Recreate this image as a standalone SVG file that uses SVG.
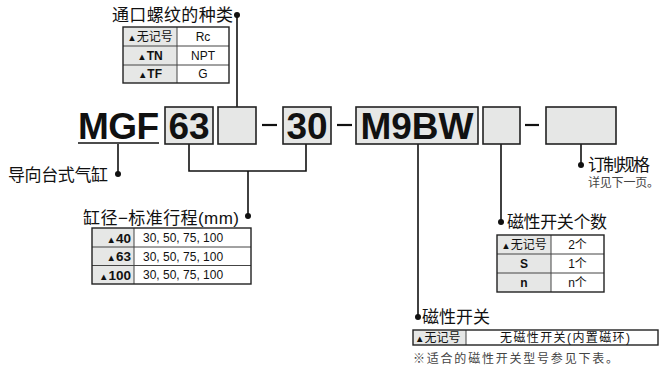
<svg xmlns="http://www.w3.org/2000/svg" width="659" height="366" viewBox="0 0 659 366">
<style>
text{font-family:"Liberation Sans","Noto Sans CJK SC",sans-serif;fill:#111}
.code{font-size:37px;font-weight:bold}
.box{fill:#e6e7e6;stroke:#222;stroke-width:1.6}
.ln{fill:none;stroke:#111;stroke-width:1.6}
.dot{fill:#111}
.hd{font-size:17px}
.cell{font-size:12px}
.b{font-weight:bold}
.gc{fill:#e6e7e6}
.wc{fill:#fff}
.tb{fill:none;stroke:#222;stroke-width:1.4}
.tl{stroke:#444;stroke-width:1}
.note{font-size:12px;fill:#444}
.tri{font-size:9.5px}
</style>

<g id="connectors">
  <polyline class="ln" points="237,107 237,15"/>
  <circle class="dot" cx="237" cy="15" r="3"/>
  <polyline class="ln" points="118,144 118,174"/>
  <circle class="dot" cx="118" cy="174" r="3"/>
  <polyline class="ln" points="189,144 189,171 306,171 306,144"/>
  <polyline class="ln" points="248,171 248,216"/>
  <circle class="dot" cx="248" cy="216" r="3"/>
  <polyline class="ln" points="418,144 418,317"/>
  <circle class="dot" cx="418" cy="317" r="3"/>
  <polyline class="ln" points="501,144 501,222"/>
  <circle class="dot" cx="501" cy="222" r="3"/>
  <polyline class="ln" points="581,144 581,165"/>
  <circle class="dot" cx="581" cy="165" r="3"/>
</g>

<g id="model">
  <text class="code" x="78" y="138.5" textLength="81">MGF</text>
  <line x1="78" y1="143" x2="159" y2="143" stroke="#111" stroke-width="1.6"/>
  <rect class="box" x="165" y="107" width="48" height="37"/>
  <text class="code" x="189" y="138.5" text-anchor="middle">63</text>
  <rect class="box" x="218" y="107" width="38" height="37"/>
  <line x1="262" y1="125" x2="277" y2="125" stroke="#111" stroke-width="2.2"/>
  <rect class="box" x="283" y="107" width="48" height="37"/>
  <text class="code" x="307" y="138.5" text-anchor="middle">30</text>
  <line x1="337" y1="125" x2="352" y2="125" stroke="#111" stroke-width="2.2"/>
  <rect class="box" x="356" y="107" width="122" height="37"/>
  <text class="code" x="417" y="138.5" text-anchor="middle">M9BW</text>
  <rect class="box" x="483" y="107" width="37" height="37"/>
  <line x1="525" y1="125" x2="539" y2="125" stroke="#111" stroke-width="2.2"/>
  <rect class="box" x="546" y="107" width="70" height="37"/>
</g>

<g id="port-thread">
  <text class="hd" x="112" y="21" textLength="121">通口螺纹的种类</text>
  <rect class="gc" x="123" y="27" width="54" height="56"/>
  <rect class="wc" x="177" y="27" width="52" height="56"/>
  <line class="tl" x1="123" y1="46" x2="229" y2="46"/>
  <line class="tl" x1="123" y1="65" x2="229" y2="65"/>
  <line class="tl" x1="177" y1="27" x2="177" y2="83"/>
  <rect class="tb" x="123" y="27" width="106" height="56"/>
  <text class="cell" x="150" y="40.5" text-anchor="middle"><tspan class="tri">▲</tspan>无记号</text>
  <text class="cell" x="203" y="40.5" text-anchor="middle">Rc</text>
  <text class="cell b" x="150" y="59.5" text-anchor="middle"><tspan class="tri">▲</tspan>TN</text>
  <text class="cell" x="203" y="59.5" text-anchor="middle">NPT</text>
  <text class="cell b" x="150" y="78" text-anchor="middle"><tspan class="tri">▲</tspan>TF</text>
  <text class="cell" x="203" y="78" text-anchor="middle">G</text>
</g>

<g id="series">
  <text class="hd" x="8" y="181" textLength="100">导向台式气缸</text>
</g>

<g id="bore-stroke">
  <text class="hd" x="83" y="224" textLength="156">缸径−标准行程(mm)</text>
  <rect class="gc" x="92" y="228" width="42" height="56"/>
  <rect class="wc" x="134" y="228" width="117" height="56"/>
  <line class="tl" x1="92" y1="247" x2="251" y2="247"/>
  <line class="tl" x1="92" y1="265.5" x2="251" y2="265.5"/>
  <line class="tl" x1="134" y1="228" x2="134" y2="284"/>
  <rect class="tb" x="92" y="228" width="159" height="56"/>
  <text class="b" font-size="13.5" x="131" y="242.5" text-anchor="end"><tspan class="tri">▲</tspan>40</text>
  <text class="b" font-size="13.5" x="131" y="261" text-anchor="end"><tspan class="tri">▲</tspan>63</text>
  <text class="b" font-size="13.5" x="131" y="279.5" text-anchor="end"><tspan class="tri">▲</tspan>100</text>
  <text font-size="12" x="143" y="242">30, 50, 75, 100</text>
  <text font-size="12" x="143" y="260.5">30, 50, 75, 100</text>
  <text font-size="12" x="143" y="279">30, 50, 75, 100</text>
</g>

<g id="custom">
  <text class="hd" x="588" y="171" textLength="62">订制规格</text>
  <text class="note" x="588" y="187" textLength="71">详见下一页。</text>
</g>

<g id="switch-count">
  <text class="hd" x="507" y="228" textLength="100">磁性开关个数</text>
  <rect class="gc" x="497" y="235" width="54" height="57"/>
  <rect class="wc" x="551" y="235" width="53" height="57"/>
  <line class="tl" x1="497" y1="254" x2="604" y2="254"/>
  <line class="tl" x1="497" y1="273" x2="604" y2="273"/>
  <line class="tl" x1="551" y1="235" x2="551" y2="292"/>
  <rect class="tb" x="497" y="235" width="107" height="57"/>
  <text class="cell" x="524" y="248.5" text-anchor="middle"><tspan class="tri">▲</tspan>无记号</text>
  <text class="cell" x="577.5" y="248.5" text-anchor="middle">2个</text>
  <text class="cell b" x="524" y="267.5" text-anchor="middle">S</text>
  <text class="cell" x="577.5" y="267.5" text-anchor="middle">1个</text>
  <text class="cell b" x="524" y="286.5" text-anchor="middle">n</text>
  <text class="cell" x="577.5" y="286.5" text-anchor="middle">n个</text>
</g>

<g id="switch">
  <text class="hd" x="422" y="323" textLength="68">磁性开关</text>
  <rect class="gc" x="413" y="330" width="53" height="15"/>
  <rect class="wc" x="466" y="330" width="192" height="15"/>
  <line class="tl" x1="466" y1="330" x2="466" y2="345"/>
  <rect class="tb" x="413" y="330" width="245" height="15"/>
  <text class="cell" x="415" y="342"><tspan class="tri">▲</tspan>无记号</text>
  <text class="cell" x="500" y="342" textLength="130">无磁性开关(内置磁环)</text>
  <text class="note" x="413" y="363" textLength="205">※适合的磁性开关型号参见下表。</text>
</g>
</svg>
